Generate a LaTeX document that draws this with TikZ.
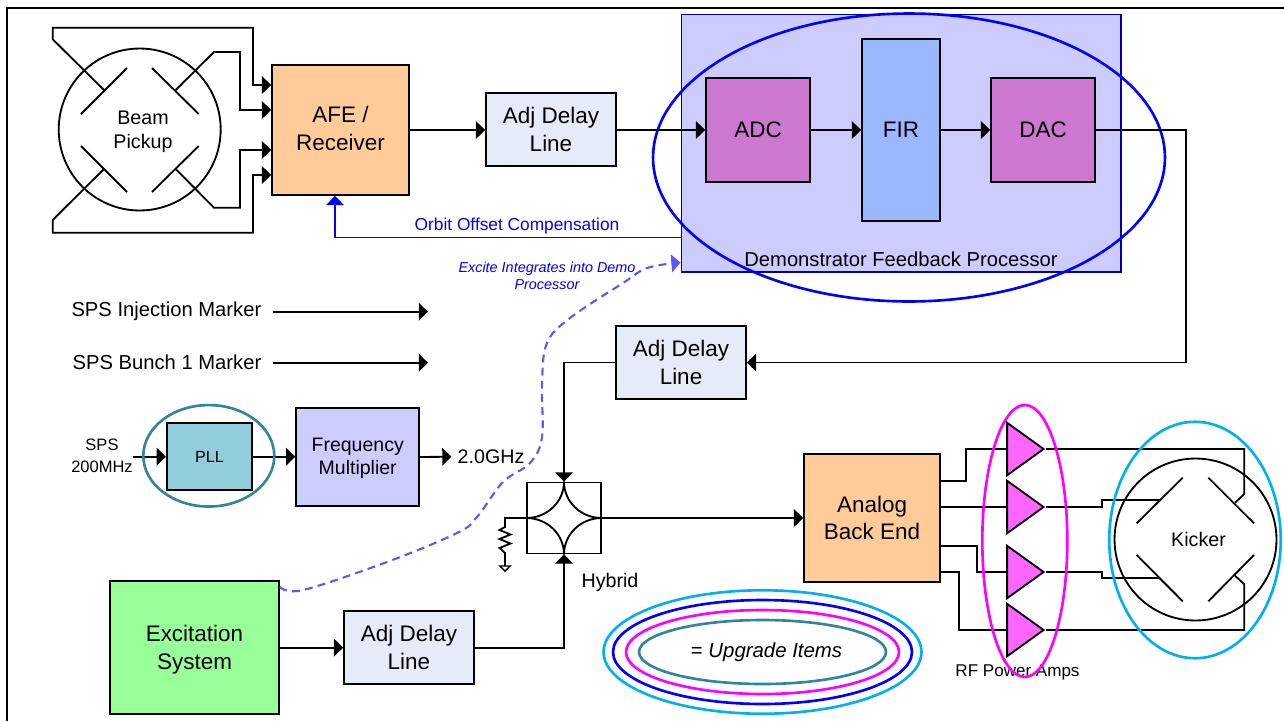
\documentclass[tikz,border=0pt]{standalone}
\usepackage{fontspec}
\setmainfont{Liberation Sans}
\usetikzlibrary{arrows.meta,shapes.geometric}
\definecolor{afecol}{HTML}{FFCC99}
\definecolor{adjcol}{HTML}{E6ECF7}
\definecolor{adccol}{HTML}{CC78D0}
\definecolor{fircol}{HTML}{99B8FF}
\definecolor{democol}{HTML}{CCCCFF}
\definecolor{pllcol}{HTML}{92CDDC}
\definecolor{exccol}{HTML}{99FF99}
\definecolor{ampcol}{HTML}{FF66FF}
\definecolor{tealcol}{HTML}{31859C}
\definecolor{cyancol}{HTML}{00B0F0}
\definecolor{dashcol}{HTML}{5A5AF5}
\definecolor{magcol}{HTML}{FF00FF}
\definecolor{bluecol}{HTML}{0000FF}
\tikzset{
  bigtxt/.style={align=center,font=\fontsize{12.8}{15.9}\selectfont},
  midtxt/.style={align=center,font=\fontsize{11.2}{13.6}\selectfont},
  widetxt/.style={align=center,font=\fontsize{11.5}{13.6}\selectfont},
  box/.style={draw,line width=1.05pt,inner sep=0pt,bigtxt},
  sig/.style={line width=1.05pt,line join=miter},
  sigarr/.style={sig,-{Triangle[length=5.2pt,width=10pt]}},
  ring/.style={draw,ellipse,inner sep=0pt,line width=1.5pt},
  amp/.style={draw,fill=ampcol,line width=1.05pt,isosceles triangle,isosceles triangle stretches,
    inner sep=0pt,minimum width=1.05cm,minimum height=0.73cm,anchor=apex},
  ringpipe/.style={draw,circle,line width=1.05pt,inner sep=0pt,minimum size=3.24cm}
}
\begin{document}
\begin{tikzpicture}[x=0.02cm,y=-0.02cm]
\useasboundingbox (0,0) rectangle (1284,721);
\draw[line width=1.2pt] (7,721) -- (7,8) -- (1284,8);

\node[box,line width=0.6pt,draw=blue!70!black,fill=democol,minimum width=8.8cm,minimum height=5.16cm] (demo) at (901,143) {};
\node[ring,draw=bluecol,minimum width=10.24cm,minimum height=5.76cm] (demoring) at (909,157.5) {};
\node[widetxt] (demolab) at (901,259) {Demonstrator Feedback Processor};

\node[ringpipe] (pickup) at (139.7,129.5) {};
\node[midtxt] (beamlab) at (143,132) {Beam\\Pickup};
\node[ringpipe] (kicker) at (1195.5,539.5) {};
\node[midtxt] (kicklab) at (1198.5,539) {Kicker};
\foreach \xa/\ya/\xb/\yb in {81/114/127/68,152/68/198.7/114,81/146/127/192,152/192/198.7/146,
    1136.7/523.3/1182.7/477.7,1208.3/477.7/1254/523.3,1136.7/555/1182.7/601.3,1208.3/601.3/1254/555}
  \draw[sig] (\xa,\ya) -- (\xb,\yb);

\node[box,fill=afecol,minimum width=2.74cm,minimum height=2.6cm] (afe) at (340.5,130) {};
\node[bigtxt] (afelab) at (340.5,128.5) {AFE /\\Receiver};
\foreach \n/\x/\y in {A/551/129.5,B/681/362.5,C/409/647.7}
  \node[box,fill=adjcol,minimum width=2.6cm,minimum height=1.46cm] (adj\n) at (\x,\y) {Adj Delay\\Line};
\node[box,fill=adccol,minimum width=2.08cm,minimum height=2.08cm] (adc) at (758,130) {ADC};
\node[box,fill=fircol,minimum width=1.56cm,minimum height=3.64cm] (fir) at (901,130) {FIR};
\node[box,fill=adccol,minimum width=2.08cm,minimum height=2.08cm] (dac) at (1043,130) {DAC};
\node[box,fill=pllcol,font=\fontsize{9.2}{11}\selectfont,minimum width=1.71cm,minimum height=1.34cm] (pll) at (209.5,456.7) {PLL};
\node[box,fill=democol,minimum width=2.46cm,minimum height=1.95cm] (freq) at (357.7,457) {};
\node[align=center,font=\fontsize{11.1}{13.2}\selectfont] (freqlab) at (357.7,458.5) {Frequency\\Multiplier};
\node[box,fill=exccol,minimum width=3.38cm,minimum height=2.66cm] (exc) at (194.5,647.7) {};
\node[bigtxt] (exclab) at (194.5,649.5) {Excitation\\System};
\node[box,fill=afecol,minimum width=2.72cm,minimum height=2.56cm] (back) at (872,518) {};
\node[align=center,font=\fontsize{12.8}{15}\selectfont] (backlab) at (872,518) {Analog\\Back End};
\node[box,minimum width=1.47cm,minimum height=1.42cm] (hyb) at (564,518) {};
\foreach \a/\o/\b/\i in {north/-90/west/0,north/-90/east/180,south/90/west/0,south/90/east/180}
  \draw[sig] (hyb.\a) to[out=\o,in=\i] (hyb.\b);
\foreach \n/\y in {1/449,2/507,3/572,4/630}
  \node[amp] (amp\n) at (1046,\y) {};

\node[widetxt,anchor=east] (inj) at (267.5,311) {SPS Injection Marker};
\node[widetxt,anchor=east] (bunch) at (267.5,362) {SPS Bunch 1 Marker};
\node[align=center,font=\fontsize{9.4}{12.5}\selectfont] (sps) at (102,456) {SPS\\200MHz};
\node[midtxt] (ghz) at (491,456.7) {2.0GHz};
\node[midtxt] (hyblab) at (610,582) {Hybrid};
\node[font=\fontsize{9.85}{12}\selectfont,text=bluecol] (orbit) at (517,226) {Orbit Offset Compensation};
\node[align=center,text=bluecol,font=\fontsize{8.2}{9.6}\itshape\selectfont] (excite) at (547,275.5) {Excite Integrates into Demo\\Processor};
\node[font=\fontsize{9.7}{12}\selectfont] (amplab) at (1017.5,672) {RF Power Amps};

% pickup wires
\draw[sigarr] (104,90) -- (52.7,39.3) -- (52.7,27.7) -- (253,27.7) |- ([yshift=0.9cm]afe.west);
\draw[sigarr] (175.7,90) -- (214,52) -- (240,52) |- ([yshift=0.4cm]afe.west);
\draw[sigarr] (175.7,169) -- (214,207.7) -- (240,207.7) |- ([yshift=-0.4cm]afe.west);
\draw[sigarr] (104,169) -- (52.7,220) -- (52.7,232.7) -- (253,232.7) |- ([yshift=-0.9cm]afe.west);

\draw[sigarr] (afe.east) -- (adjA.west |- afe.east);
\draw[sigarr] (adjA.east |- adc.west) -- (adc.west);
\draw[sigarr] (adc.east) -- (fir.west);
\draw[sigarr] (fir.east) -- (dac.west);
\coordinate (turn) at (1186,130);
\draw[sigarr] (dac.east) -- (turn) |- (adjB.east);
\draw[sigarr] (adjB.west) -| (hyb.north);
\draw[sigarr] (adjC.east) -| (hyb.south);
\draw[sigarr] (exc.east) -- (adjC.west);
\draw[sigarr] (hyb.east) -- (back.west);
\draw[sig] (hyb.west) -- (505,518) -- (505,527) -- (499.5,530) -- (510.5,534.5) -- (499.5,539) -- (510.5,543.5) -- (499.5,548) -- (505,553) -- (505,566);
\draw[sig,line width=0.8pt] (500,566) -- (510,566) -- (505,571) -- cycle;

\coordinate (injend) at (428,311.7);
\coordinate (bunchend) at (428,362.7);
\draw[sigarr] (273,311.7) -- (injend);
\draw[sigarr] (273,362.7) -- (bunchend);
\coordinate (spsin) at (133,456.7);
\draw[sigarr] (spsin) -- (pll.west);
\draw[sigarr] (pll.east) -- (freq.west |- pll.east);
\draw[sigarr] (freq.east) -- (ghz.west);

\draw[sig] (940,481) -- (965.7,481) |- (amp1.west);
\draw[sig] (940,507) -- (amp2.west);
\draw[sig] (940,545.7) -- (977.3,545.7) |- (amp3.west);
\draw[sig] (940,571.7) -- (959.3,571.7) |- (amp4.west);
\draw[sig] (amp1.apex) -- (1244.3,449) -- (1244.3,494) -- (1235,502.7);
\draw[sig] (amp2.apex) -- (1101.7,507) -- (1101.7,500) -- (1160,500);
\draw[sig] (amp3.apex) -- (1101.7,572) -- (1101.7,578.3) -- (1160,578.3);
\draw[sig] (amp4.apex) -- (1244.3,630) -- (1244.3,584.3) -- (1235,575.7);

\draw[bluecol,line width=1.1pt,-{Triangle[length=5.2pt,width=10pt]}] ([yshift=0.7cm]demo.south west) -| ([xshift=-0.11cm]afe.south);
\coordinate (dashA) at ([yshift=-0.13cm]exc.north east);
\coordinate (dashB) at ([yshift=0.2cm]demo.south west);
\draw[dashcol,line width=1.2pt,dash pattern=on 4.5pt off 3pt,-{Triangle[length=5.2pt,width=10pt]}] plot[smooth,tension=0.6] coordinates {(dashA) (303,590) (387,562) (457,533) (477,517) (503,482) (530,463) (542,437) (542,383) (547,343) (570,318) (623,283) (647,268) (dashB)};

\node[ring,draw=tealcol,minimum width=2.62cm,minimum height=2.03cm] (pllring) at (208.8,455.8) {};
\node[ring,draw=magcol,minimum width=1.7cm,minimum height=5.44cm] (ampring) at (1024.8,541) {};
\node[ring,draw=cyancol,minimum width=3.43cm,minimum height=4.73cm] (kickring) at (1195,540) {};
\node[ring,draw=cyancol,minimum width=6.36cm,minimum height=2.47cm] (keyA) at (762.5,652) {};
\node[ring,draw=bluecol,minimum width=5.98cm,minimum height=2.08cm] (keyB) at (762.5,652) {};
\node[ring,draw=magcol,minimum width=5.46cm,minimum height=1.68cm] (keyC) at (762.5,652) {};
\node[ring,draw=tealcol,minimum width=4.94cm,minimum height=1.28cm] (keyD) at (762.5,652) {};
\node[font=\fontsize{11.6}{13}\selectfont] (keylab) at (766.5,652) {= \textit{Upgrade Items}};
\end{tikzpicture}
\end{document}
